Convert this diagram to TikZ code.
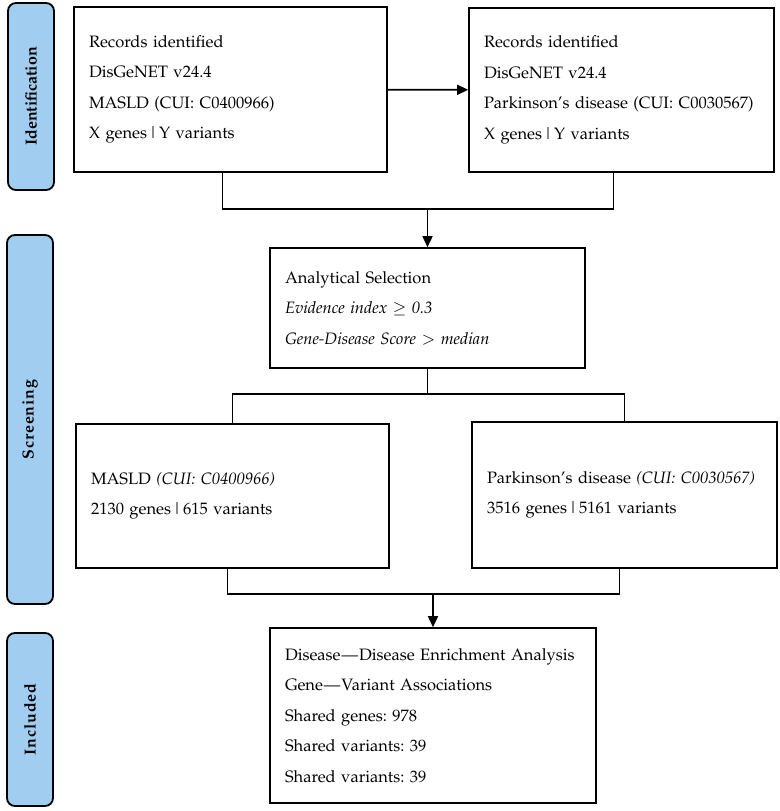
\documentclass[tikz,border=0pt]{standalone}
\usepackage[T1]{fontenc}
\usepackage{mathpazo}
\usetikzlibrary{arrows.meta}
\definecolor{stageblue}{RGB}{160,205,240}
\begin{document}
\begin{tikzpicture}[x=1pt,y=-1pt,
	stage/.style={draw, fill=stageblue, rounded corners=8pt, line width=1.8pt, minimum width=46pt, inner sep=0pt},
	stagetext/.style={rotate=90, font=\fontsize{16}{18}\selectfont\bfseries},
	box/.style={draw, rectangle, line width=1.6pt, inner xsep=15pt, inner ysep=0pt, align=left, font=\fontsize{16.5}{30.5}\selectfont\frenchspacing},
	link/.style={line width=1.6pt},
	arr/.style={line width=1.6pt, -{Triangle[length=11pt,width=10pt]}}]
	\useasboundingbox (0,0) rectangle (779,811);
	\draw (31,96.5) node[stage, minimum height=187pt](stid){};
	\draw (31,96.5) node[stagetext](lbid){Identification};
	\draw (30,419.5) node[stage, minimum height=369pt](stscr){};
	\draw (30,419.5) node[stagetext](lbscr){S\kern.8pt c\kern.8pt r\kern.8pt e\kern.8pt e\kern.8pt n\kern.8pt i\kern.8pt n\kern.8pt g};
	\draw (30,719.5) node[stage, minimum height=173pt](stinc){};
	\draw (30,719.5) node[stagetext](lbinc){I\kern.8pt n\kern.8pt c\kern.8pt l\kern.8pt u\kern.8pt d\kern.8pt e\kern.8pt d};
	\draw (230.5,89.5) node[box, text width=283pt, minimum height=165pt](recma){Records identified\\DisGeNET v24.4\\MASLD (CUI: C0400966)\\X genes\kern1pt\textbar\kern1pt Y variants};
	\draw (621.5,90) node[box, text width=275pt, minimum height=164pt](recpd){Records identified\\DisGeNET v24.4\\\mbox{Parkinson's disease (CUI: C0030567)}\\X genes\kern1pt\textbar\kern1pt Y variants};
	\draw (427.5,308) node[box, text width=285pt, minimum height=120pt](select){Analytical Selection\\\textit{Evidence index $\geq$ 0.3}\\\textit{Gene-Disease Score} $>$ \textit{median}};
	\draw (232.5,496) node[box, text width=283pt, minimum height=144pt](selma){MASLD \textit{(CUI: C0400966)}\\2130 genes\kern1pt\textbar\kern1pt 615 variants};
	\draw (624.5,495) node[box, text width=275pt, minimum height=146pt](selpd){\mbox{Parkinson's disease \textit{(CUI: C0030567)}}\\3516 genes\kern1pt\textbar\kern1pt 5161 variants};
	\draw (433,715.5) node[box, text width=296pt, minimum height=175pt](incl){Disease\kern1pt---\kern1pt Disease Enrichment Analysis\\Gene\kern1pt---\kern1pt Variant Associations\\Shared genes: 978\\Shared variants: 39\\Shared variants: 39};
	\coordinate (jn1) at (427.5,209);
	\coordinate (jn2) at (427.5,394);
	\coordinate (jn3) at (433,594);
	\draw[arr] (recma) -- (recpd);
	\draw[link] ([xshift=-8pt]recma.south) |- (jn1) -| ([xshift=-8pt]recpd.south);
	\draw[arr] (jn1) -- (select.north);
	\draw[link] (select.south) -- (jn2);
	\draw[link] (selma.north) |- (jn2) -| (selpd.north);
	\draw[link] ([xshift=-5pt]selma.south) |- (jn3) -| ([xshift=-5pt]selpd.south);
	\draw[arr] (jn3) -- (incl.north);
\end{tikzpicture}
\end{document}
